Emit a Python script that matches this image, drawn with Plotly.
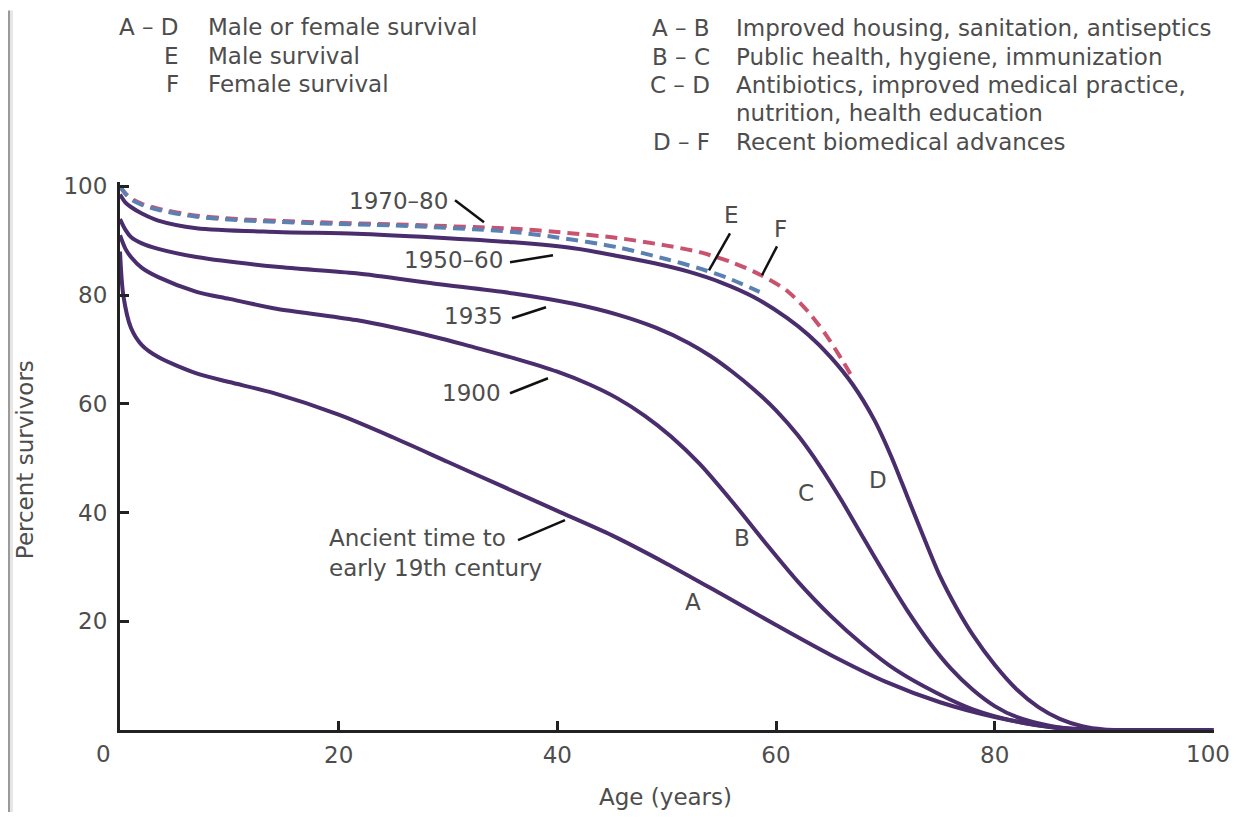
import plotly.graph_objects as go

# ---------------- data ----------------
age_ancient = [0, 0.3, 1, 2, 3.5, 7, 10, 14, 20, 25, 30, 35, 40, 45, 50, 55, 60, 65, 70, 75, 80, 85, 90, 100]
pct_ancient = [88, 80, 74, 70.8, 68.6, 65.6, 64, 62, 58, 53.8, 49.3, 44.8, 40.3, 35.8, 30.6, 25, 19.3, 13.8, 8.9, 5.1, 2.4, 0.6, 0, 0]

age_1900 = [0, 0.5, 1, 2, 3.5, 7, 10, 14.3, 21.6, 28.8, 32, 36, 40, 43, 45.5, 48, 50.4, 53, 56, 59, 62, 65, 68, 71, 74.7, 78, 81.9, 86, 90, 100]
pct_1900 = [91, 88.5, 87, 85, 83.3, 80.6, 79.3, 77.5, 75.4, 72.3, 70.6, 68.4, 65.9, 63.5, 61, 57.8, 54, 49, 42, 34.5, 27.3, 21, 15.6, 11, 6.8, 3.8, 1.6, 0.3, 0, 0]

age_1935 = [0, 0.5, 1, 2, 3.5, 7, 14.3, 21.6, 28.8, 36, 41.5, 45.5, 49, 52, 54, 56, 58, 60, 62, 64, 66, 68, 70, 72, 74, 76, 78, 80, 82, 85, 88, 90, 100]
pct_1935 = [94, 92, 90.7, 89.5, 88.5, 87, 85.2, 84, 82.1, 80.3, 78.4, 76.4, 74, 71.2, 68.8, 65.9, 62.6, 58.8, 54.2, 48.6, 42.2, 35.3, 28.5, 22, 16.2, 11.3, 7.4, 4.4, 2.4, 0.8, 0.1, 0, 0]

age_1950 = [0, 0.5, 1, 2, 3.5, 7, 14.3, 21.6, 28.8, 36, 41.5, 45.5, 49, 52, 55, 58, 61, 63, 65, 67, 69, 70.5, 72, 73.5, 75, 76.5, 78, 80, 82, 84, 86, 88, 90, 92, 100]
pct_1950 = [98.5, 97, 96.2, 95, 93.7, 92.3, 91.6, 91.3, 90.6, 89.7, 88.6, 87.2, 85.8, 84.3, 82.3, 79.6, 75.8, 72.6, 68.6, 63.6, 57, 50.5, 43, 35.5, 28.3, 22.5, 17.5, 12, 7.5, 4.2, 2, 0.7, 0.1, 0, 0]

age_female = [0, 0.5, 1, 2, 3.5, 7, 10.7, 18, 25.2, 32.4, 36, 40, 45.5, 50, 53, 56, 58.5, 61, 63, 64.6, 66, 66.8]
pct_female = [100, 98.7, 97.8, 96.8, 95.9, 94.6, 94, 93.4, 93, 92.5, 92.2, 91.6, 90.5, 89.1, 87.9, 86, 83.8, 80.8, 76.8, 72.6, 68.2, 65.5]

age_male = [0, 0.5, 1, 2, 3.5, 7, 10.7, 18, 25.2, 32.4, 36, 40, 45.5, 50, 53, 55.5, 58.5]
pct_male = [100, 98.6, 97.6, 96.6, 95.7, 94.4, 93.8, 93.2, 92.8, 92.1, 91.6, 90.6, 88.8, 86.6, 84.9, 83.2, 80.6]

x_ticks = [20, 40, 60, 80, 100]
x_tick_text = ["20", "40", "60", "80", ""]   # "0" and "100" are placed as separate labels
y_ticks = [20, 40, 60, 80, 100]

header_left_codes = ["A – D", "E", "F"]
header_left_text = ["Male or female survival", "Male survival", "Female survival"]
header_right_codes = ["A – B", "B – C", "C – D", "", "D – F"]
header_right_text = ["Improved housing, sanitation, antiseptics",
                     "Public health, hygiene, immunization",
                     "Antibiotics, improved medical practice,",
                     "nutrition, health education",
                     "Recent biomedical advances"]

# ---------------- styling / layout helpers ----------------
PURPLE = "#4a2d6c"
RED = "#c9536f"
BLUE = "#5b80b2"
TXT = "#4d4d4d"
FONT = "DejaVu Sans"
FS = 23
TICK_FS = 23

OFF = 8                      # default page body margin
SCREEN_W, SCREEN_H = 1241, 820
PLOT_L, PLOT_R, PLOT_B = 120, 1214, 730   # plot-area edges on screen
XMAX = 100.06
YS = 5.44
YMAX = 100.8
PH = YMAX * YS
PLOT_T = PLOT_B - PH
PW = PLOT_R - PLOT_L
FIG_W = SCREEN_W - 2 * OFF
FIG_H = SCREEN_H - 2 * OFF


def px_x(px):
    return (px - PLOT_L) / PW


def px_y(py):
    return (PLOT_B - py) / PH


fig = go.Figure()

for ages, pcts in [(age_ancient, pct_ancient), (age_1900, pct_1900),
                   (age_1935, pct_1935), (age_1950, pct_1950)]:
    fig.add_trace(go.Scatter(x=ages, y=pcts, mode="lines",
                             line=dict(color=PURPLE, width=4, shape="spline", smoothing=0.8),
                             hoverinfo="skip", showlegend=False))

fig.add_trace(go.Scatter(x=age_female, y=pct_female, mode="lines",
                         line=dict(color=RED, width=4, dash="12px,7px", shape="spline", smoothing=0.8),
                         hoverinfo="skip", showlegend=False))
fig.add_trace(go.Scatter(x=age_male, y=pct_male, mode="lines",
                         line=dict(color=BLUE, width=4, dash="12px,7px", shape="spline", smoothing=0.8),
                         hoverinfo="skip", showlegend=False))

annotations = []


def text(px, py, s, anchor="center", size=FS, angle=0):
    annotations.append(dict(x=px_x(px), y=px_y(py), xref="paper", yref="paper", text=s,
                            showarrow=False, xanchor=anchor, yanchor="middle", textangle=angle,
                            borderpad=0, font=dict(family=FONT, size=size, color=TXT)))


# header legend text
left_rows = [27, 56, 84]
for c, t_, py in zip(header_left_codes, header_left_text, left_rows):
    text(180, py, c, "right")
    text(207, py, t_, "left")
right_rows = [28, 56.5, 85, 113, 141.5]
for c, t_, py in zip(header_right_codes, header_right_text, right_rows):
    if c:
        text(711, py, c, "right")
    text(735, py, t_, "left")

# curve labels
text(449, 201, "1970–80", "right")
text(504, 260, "1950–60", "right")
text(504, 316, "1935", "right")
text(502, 393, "1900", "right")
text(328, 538, "Ancient time to", "left")
text(328, 568, "early 19th century", "left")
text(731, 215, "E")
text(780, 229, "F")
text(693, 602, "A")
text(742, 538, "B")
text(806, 493, "C")
text(878, 480, "D")

# axis end labels and axis titles
text(103, 754, "0", size=TICK_FS)
text(1231, 754, "100", anchor="right", size=TICK_FS)
text(25, 460, "Percent survivors", angle=-90)
text(665, 797, "Age (years)")

# leader lines (label pointers), screen-pixel endpoints
leaders = [((455, 200), (484, 222)), ((510, 262), (553, 255)), ((512, 318), (546, 307)),
           ((510, 393), (548, 378)), ((518, 540), (565, 520)), ((730, 233), (709, 270)),
           ((777, 246), (762, 275))]
shapes = []
for (x0, y0), (x1, y1) in leaders:
    shapes.append(dict(type="line", xref="paper", yref="paper",
                       x0=px_x(x0), y0=px_y(y0), x1=px_x(x1), y1=px_y(y1),
                       line=dict(color="#111111", width=2.5)))

# page border on the left
shapes.append(dict(type="line", xref="paper", yref="paper", x0=px_x(9), x1=px_x(9),
                   y0=px_y(OFF + FIG_H), y1=px_y(10), line=dict(color="#9a9a9a", width=2)))
shapes.append(dict(type="rect", xref="paper", yref="paper", x0=px_x(10), x1=px_x(13),
                   y0=px_y(OFF + FIG_H), y1=px_y(10), line=dict(width=0), fillcolor="#e6e6e6"))

fig.update_layout(
    width=FIG_W, height=FIG_H, autosize=False,
    margin=dict(l=PLOT_L - OFF, r=OFF + FIG_W - PLOT_R, t=PLOT_T - OFF, b=OFF + FIG_H - PLOT_B, pad=0),
    plot_bgcolor="white", paper_bgcolor="white",
    annotations=annotations, shapes=shapes,
    showlegend=False,
)
fig.update_xaxes(range=[0, XMAX], tickvals=x_ticks, ticktext=x_tick_text, ticks="inside", ticklen=9,
                 tickwidth=3, tickcolor="#222222", showline=True, linecolor="#222222", linewidth=3,
                 showgrid=False, zeroline=False, ticklabelstandoff=2,
                 tickfont=dict(family=FONT, size=TICK_FS, color=TXT))
fig.update_yaxes(range=[0, YMAX], tickvals=y_ticks, ticks="inside", ticklen=9, tickwidth=3,
                 tickcolor="#222222", showline=True, linecolor="#222222", linewidth=3,
                 showgrid=False, zeroline=False, ticklabelstandoff=5,
                 tickfont=dict(family=FONT, size=TICK_FS, color=TXT))

fig.write_html("out.html")
